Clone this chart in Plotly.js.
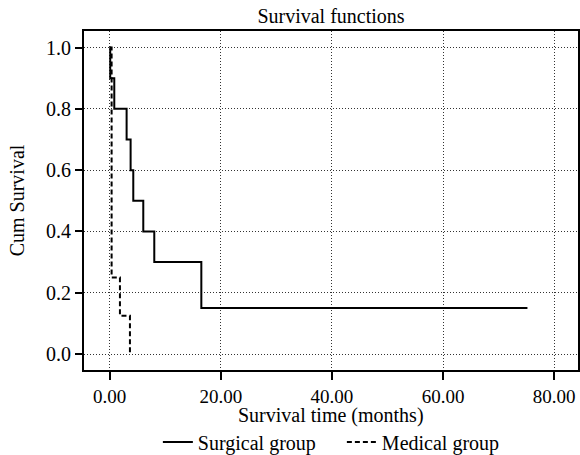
<!DOCTYPE html>
<html>
<head>
<meta charset="utf-8">
<script src="https://cdn.plot.ly/plotly-3.0.1.min.js"></script>
<style>html,body{margin:0;padding:0;background:#fff;}#chart{width:580px;height:455px;}</style>
</head>
<body>
<div id="chart"></div>
<script>
// Kaplan-Meier step data
const surgicalTime = [0, 0.1, 0.83, 3.05, 3.77, 4.25, 6.05, 8.03, 16.5, 75.2];
const surgicalSurv = [1.0, 0.9, 0.8, 0.7, 0.6, 0.5, 0.4, 0.3, 0.15, 0.15];
const medicalTime = [0, 0.35, 1.85, 3.65];
const medicalSurv = [1.0, 0.25, 0.125, 0.0];
const xTicks = [0, 20, 40, 60, 80];
const xTickLabels = ["0.00", "20.00", "40.00", "60.00", "80.00"];
const yTicks = [0, 0.2, 0.4, 0.6, 0.8, 1.0];
const yTickLabels = ["0.0", "0.2", "0.4", "0.6", "0.8", "1.0"];
const xTitle = "Survival time (months)";

const font = "Liberation Serif, Times New Roman, serif";

const traces = [
  {x: surgicalTime, y: surgicalSurv, name: "Surgical group", type: "scatter", mode: "lines",
   line: {shape: "hv", color: "#000", width: 2}},
  {x: medicalTime, y: medicalSurv, name: "Medical group", type: "scatter", mode: "lines",
   line: {shape: "hv", color: "#000", width: 2, dash: "5px,3px"}}
];

const layout = {
  width: 580, height: 455,
  margin: {l: 84, r: 2, t: 31, b: 85, autoexpand: false},
  paper_bgcolor: "#fff", plot_bgcolor: "#fff",
  font: {family: font, color: "#000", size: 20},
  title: {text: "Survival functions", font: {family: font, size: 20, color: "#000"},
          x: 0.5, xref: "paper", xanchor: "center", y: 16, yref: "container", yanchor: "middle"},
  xaxis: {
    range: [-4.62, 84.3], tickvals: xTicks, ticktext: xTickLabels,
    ticks: "outside", ticklen: 8, tickwidth: 2, tickcolor: "#000",
    showline: true, linecolor: "#000", linewidth: 2, mirror: true,
    showgrid: true, gridcolor: "#333", gridwidth: 1, griddash: "1px,2px", zeroline: false,
    tickfont: {family: font, size: 19, color: "#000"}
  },
  yaxis: {
    range: [-0.052, 1.054], tickvals: yTicks, ticktext: yTickLabels,
    ticks: "outside", ticklen: 7, tickwidth: 2, tickcolor: "#000",
    showline: true, linecolor: "#000", linewidth: 2, mirror: true,
    showgrid: true, gridcolor: "#333", gridwidth: 1, griddash: "1px,2px", zeroline: false,
    tickfont: {family: font, size: 20, color: "#000"},
    title: {text: "Cum Survival", font: {family: font, size: 20, color: "#000"}, standoff: 16}
  },
  annotations: [
    {text: xTitle, xref: "paper", yref: "paper", x: 0.5, y: -0.135, xanchor: "center", yanchor: "middle",
     showarrow: false, borderpad: 0, font: {family: font, size: 20, color: "#000"}}
  ],
  showlegend: true,
  legend: {orientation: "h", x: 0.522, xanchor: "center", yref: "container", y: 0.0286, yanchor: "middle",
           entrywidth: 139, entrywidthmode: "pixels",
           font: {family: font, size: 20, color: "#000"}, bgcolor: "rgba(0,0,0,0)"}
};

Plotly.newPlot("chart", traces, layout, {displayModeBar: false, staticPlot: true});
</script>
</body>
</html>
